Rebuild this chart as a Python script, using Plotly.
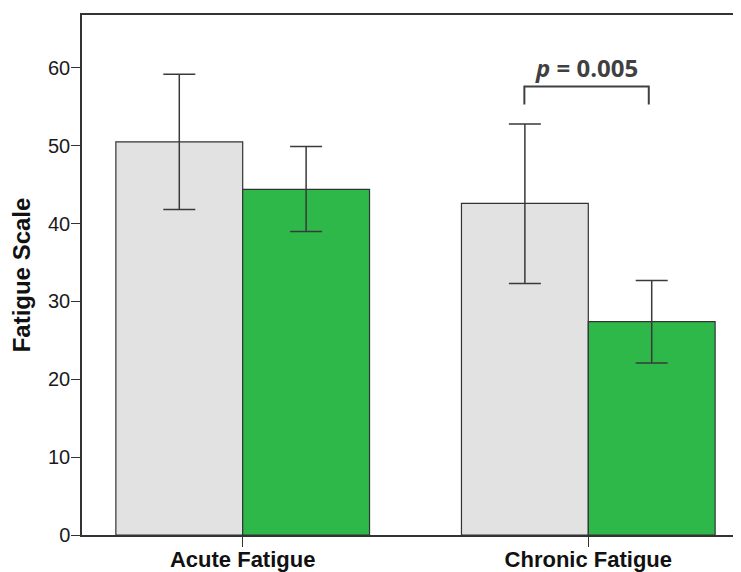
import plotly.graph_objects as go

categories = ["Acute Fatigue", "Chronic Fatigue"]
series_names = ["Control", "Intervention"]
means_control = [50.5, 42.6]
upper_control = [59.2, 52.8]
lower_control = [41.8, 32.3]
means_interv = [44.4, 27.4]
upper_interv = [49.9, 32.7]
lower_interv = [39.0, 22.1]
y_ticks = [0, 10, 20, 30, 40, 50, 60]

# significance bracket (category-index units / data units)
bracket_x = [0.815, 1.175]
bracket_y_top = 57.6
bracket_y_bottom = 55.3
p_text = "<i>p</i> = 0.005"
p_text_y = 60.1

colors = ["#e2e2e2", "#2fb84a"]

fig = go.Figure()
for name, m, up, lo, col in [
    (series_names[0], means_control, upper_control, lower_control, colors[0]),
    (series_names[1], means_interv, upper_interv, lower_interv, colors[1]),
]:
    fig.add_trace(go.Bar(
        x=categories, y=m, name=name,
        marker=dict(color=col, line=dict(color="#333333", width=1.2)),
        error_y=dict(type="data", symmetric=False,
                     array=[u - v for u, v in zip(up, m)],
                     arrayminus=[v - l for v, l in zip(m, lo)],
                     color="#3a3a3a", thickness=1.5, width=16),
    ))

fig.add_shape(type="path",
              path=f"M {bracket_x[0]} {bracket_y_bottom} L {bracket_x[0]} {bracket_y_top} "
                   f"L {bracket_x[1]} {bracket_y_top} L {bracket_x[1]} {bracket_y_bottom}",
              xref="x", yref="y", line=dict(color="#404040", width=2))
fig.add_annotation(x=sum(bracket_x) / 2, y=p_text_y, xref="x", yref="y",
                   text=f"<b>{p_text}</b>", showarrow=False,
                   font=dict(family="Open Sans", size=24, color="#404040"),
                   yanchor="middle")

# the page body adds an 8px offset, so margins are shifted accordingly
fig.update_layout(
    width=741, height=572,
    margin=dict(l=74, r=0, t=7, b=45, autoexpand=False),
    paper_bgcolor="white", plot_bgcolor="white",
    barmode="group", bargap=0.266, bargroupgap=0,
    showlegend=False,
    font=dict(family="Liberation Sans, Arial", color="#1a1a1a"),
)
fig.update_xaxes(
    range=[-0.465, 1.465], showline=True, linecolor="#333333", linewidth=1.5,
    mirror=True, ticks="outside", ticklen=10, tickwidth=1.2, tickcolor="#333333",
    tickfont=dict(family="Liberation Sans, Arial", size=22, color="#111111"),
    tickprefix="<b>", ticksuffix="</b>", showgrid=False, automargin=False,
    ticklabelstandoff=-6,
)
fig.update_yaxes(
    range=[0, 66.8], tickvals=y_ticks, showline=True, linecolor="#333333",
    linewidth=1.5, ticks="outside", ticklen=9, tickwidth=1.2, tickcolor="#333333",
    tickfont=dict(family="Liberation Sans, Arial", size=20, color="#1a1a1a"),
    showgrid=False, zeroline=False, automargin=False, ticklabelstandoff=-3,
    title=dict(text="<b>Fatigue Scale</b>", standoff=12,
               font=dict(family="Liberation Sans, Arial", size=24, color="#111111")),
)

fig.write_html("out.html")
